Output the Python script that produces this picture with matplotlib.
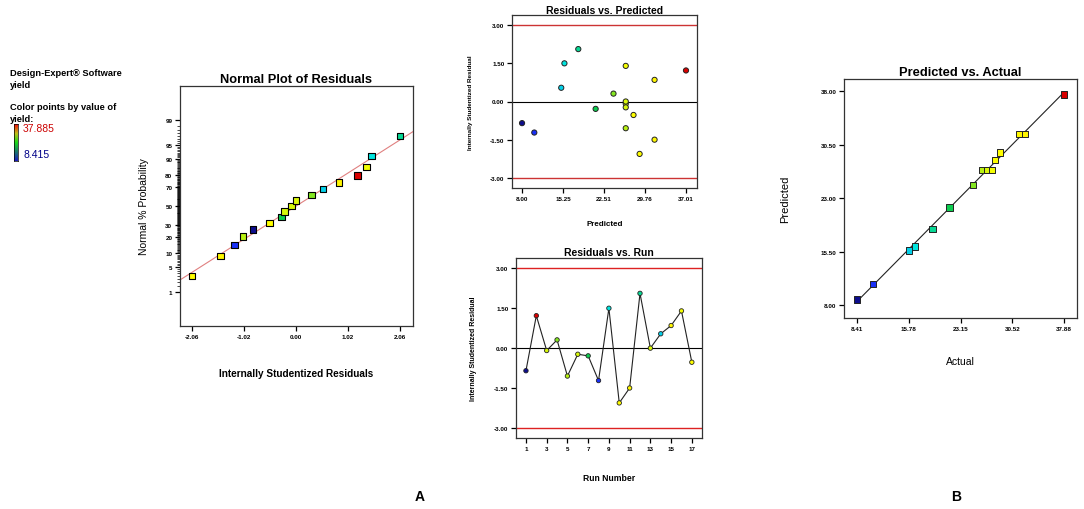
import numpy as np
import matplotlib
matplotlib.use("Agg")
import matplotlib.pyplot as plt
from matplotlib.colors import LinearSegmentedColormap
from matplotlib import font_manager
from statistics import NormalDist

plt.rcParams['font.family'] = ['Liberation Sans', 'DejaVu Sans']
_names = {f.name for f in font_manager.fontManager.ttflist}
TITLE_FAM = ['Liberation Sans Narrow', 'Liberation Sans'] if 'Liberation Sans Narrow' in _names else ['Liberation Sans']
TITLE_SCALE = 1.12 if 'Liberation Sans Narrow' in _names else 0.93

# ---------------- data (per run 1..17) ----------------
runs = list(range(1, 18))
residuals = [-0.85, 1.22, -0.09, 0.31, -1.05, -0.23, -0.29, -1.22, 1.50,
             -2.06, -1.50, 2.06, 0.00, 0.54, 0.85, 1.40, -0.53]
predicted = [8.79, 37.53, 26.97, 24.82, 26.97, 26.97, 21.69, 10.94, 16.22,
             29.40, 32.02, 18.65, 26.97, 15.66, 32.02, 26.97, 28.33]
actual = [8.41, 37.885, 26.93, 24.91, 26.24, 26.85, 21.58, 10.65, 16.64,
          28.71, 31.47, 19.16, 26.97, 15.78, 32.28, 27.62, 28.09]
yield_min, yield_max = 8.415, 37.885

normal_pct_ticks = [1, 5, 10, 20, 30, 50, 70, 80, 90, 95, 99]
normal_x_ticks = [-2.06, -1.03, 0.00, 1.03, 2.06]
normal_x_labels = ['-2.06', '-1.02', '0.00', '1.02', '2.06']
resid_ticks = [-3.00, -1.50, 0.00, 1.50, 3.00]
resid_labels = ['-3.00', '-1.50', '0.00', '1.50', '3.00']
rvp_x_labels = ['8.00', '15.25', '22.51', '29.76', '37.01']
run_ticks = [1, 3, 5, 7, 9, 11, 13, 15, 17]
pva_x_ticks = [8.41, 15.78, 23.15, 30.52, 37.88]
pva_x_labels = ['8.41', '15.78', '23.15', '30.52', '37.88']
pva_y_ticks = [8.00, 15.50, 23.00, 30.50, 38.00]
pva_y_labels = ['8.00', '15.50', '23.00', '30.50', '38.00']

res = np.array(residuals)
pred = np.array(predicted)
act = np.array(actual)

cmap = LinearSegmentedColormap.from_list('de', [
    (0.00, (0.05, 0.05, 0.55)),
    (0.08, (0.10, 0.20, 1.00)),
    (0.27, (0.00, 0.90, 0.90)),
    (0.45, (0.05, 0.80, 0.30)),
    (0.58, (0.60, 0.92, 0.10)),
    (0.66, (1.00, 1.00, 0.00)),
    (0.88, (1.00, 0.95, 0.00)),
    (1.00, (0.85, 0.00, 0.00)),
])
legend_cmap = LinearSegmentedColormap.from_list('leg', [
    (0.00, (0.10, 0.10, 0.75)),
    (0.50, (0.10, 0.85, 0.10)),
    (0.75, (0.75, 0.75, 0.10)),
    (1.00, (0.95, 0.05, 0.05)),
])
norm = plt.Normalize(yield_min, yield_max)
cols = cmap(norm(act))

W, H = 1084, 510
fig = plt.figure(figsize=(W / 100, H / 100), dpi=100)


def ax_px(l, t, r, b):
    return fig.add_axes([l / W, 1 - b / H, (r - l) / W, (b - t) / H])


TICK_FS = 4.5


def style(ax):
    for s in ax.spines.values():
        s.set_color('#333333')
        s.set_linewidth(0.9)
    ax.tick_params(direction='out', length=3.5, width=0.9, labelsize=TICK_FS,
                   top=False, right=False, pad=2)
    for lab in ax.get_xticklabels() + ax.get_yticklabels():
        lab.set_fontweight('bold')


def title(ax, txt, size, pad):
    ax.set_title(txt, fontsize=size * TITLE_SCALE, fontweight='bold', pad=pad,
                 family=TITLE_FAM)


nd = NormalDist()

# ---------------- Normal plot ----------------
ax1 = ax_px(180, 87, 413, 327)
order = np.argsort(res)
n = len(res)
zq = np.array([nd.inv_cdf((i - 0.5) / n) for i in range(1, n + 1)])
mu, sd = res.mean(), res.std(ddof=1)
xl = np.array([-2.3, 2.32])
ax1.plot(xl, (xl - mu) / sd, color='#e08080', lw=0.8, zorder=1)
ax1.scatter(res[order], zq, marker='s', s=22, c=cols[order], edgecolors='black',
            linewidths=0.8, zorder=3)
ax1.set_xlim(-2.3, 2.32)
ax1.set_ylim(-3.24, 3.24)
ax1.set_yticks([nd.inv_cdf(p / 100) for p in normal_pct_ticks])
ax1.set_yticklabels([str(p) for p in normal_pct_ticks])
minor_p = [p / 2 for p in range(2, 199)]
ax1.set_yticks([nd.inv_cdf(p / 100) for p in minor_p], minor=True)
ax1.set_xticks(normal_x_ticks)
ax1.set_xticklabels(normal_x_labels)
style(ax1)
ax1.tick_params(axis='y', which='minor', length=2, width=0.5, left=True)
title(ax1, 'Normal Plot of Residuals', 10, 3)
ax1.set_ylabel('Normal % Probability', fontsize=7.5, labelpad=12)
ax1.set_xlabel('Internally Studentized Residuals', fontsize=7.2,
               fontweight='bold', labelpad=21, family=TITLE_FAM)

# ---------------- Residuals vs Predicted ----------------
ax2 = ax_px(512, 16, 697, 189)
ax2.axhline(3, color='#cc3333', lw=1.0, zorder=1)
ax2.axhline(-3, color='#cc3333', lw=1.0, zorder=1)
ax2.axhline(0, color='black', lw=0.8, zorder=1)
ax2.scatter(pred, res, marker='o', s=14, c=cols, edgecolors='#222222',
            linewidths=0.7, zorder=3)
ax2.set_xlim(7.03, 39.46)
ax2.set_ylim(-3.40, 3.40)
ax2.set_xticks(np.linspace(pred.min(), pred.max(), 5))
ax2.set_xticklabels(rvp_x_labels)
ax2.set_yticks(resid_ticks)
ax2.set_yticklabels(resid_labels)
style(ax2)
title(ax2, 'Residuals vs. Predicted', 8, 1)
ax2.set_xlabel('Predicted', fontsize=5.8, fontweight='bold', labelpad=14)
ax2.set_ylabel('Internally Studentized Residual', fontsize=4.6,
               fontweight='bold', labelpad=12)

# ---------------- Residuals vs Run ----------------
ax3 = ax_px(516, 259, 702, 439)
ax3.axhline(3, color='#dd2222', lw=1.0, zorder=1)
ax3.axhline(-3, color='#dd2222', lw=1.0, zorder=1)
ax3.axhline(0, color='black', lw=0.8, zorder=1)
ax3.plot(runs, res, color='#222222', lw=0.8, zorder=2)
ax3.scatter(runs, res, marker='o', s=10, c=cols, edgecolors='#222222',
            linewidths=0.6, zorder=3)
ax3.set_xlim(0.04, 17.98)
ax3.set_ylim(-3.38, 3.39)
ax3.set_xticks(run_ticks)
ax3.set_yticks(resid_ticks)
ax3.set_yticklabels(resid_labels)
style(ax3)
title(ax3, 'Residuals vs. Run', 8, 2)
ax3.set_xlabel('Run Number', fontsize=6.2, fontweight='bold', labelpad=16)
ax3.set_ylabel('Internally Studentized Residual', fontsize=5,
               fontweight='bold', labelpad=12)

# ---------------- Predicted vs Actual ----------------
ax4 = ax_px(844, 80, 1077, 319)
k, b0 = np.polyfit(act, pred, 1)
xx = np.array([act.min(), act.max()])
ax4.plot(xx, k * xx + b0, color='#222222', lw=0.8, zorder=1)
ax4.scatter(act, pred, marker='s', s=20, c=cols, edgecolors='#222222',
            linewidths=0.7, zorder=3)
ax4.set_xlim(6.56, 39.70)
ax4.set_ylim(6.18, 39.72)
ax4.set_xticks(pva_x_ticks)
ax4.set_xticklabels(pva_x_labels)
ax4.set_yticks(pva_y_ticks)
ax4.set_yticklabels(pva_y_labels)
style(ax4)
title(ax4, 'Predicted vs. Actual', 10, 3)
ax4.set_xlabel('Actual', fontsize=7.5, labelpad=18)
ax4.set_ylabel('Predicted', fontsize=8, labelpad=22)

# ---------------- Legend text ----------------
LFS = 6.7
fig.text(10 / W, 1 - 74 / H, 'Design-Expert® Software', fontsize=LFS,
         fontweight='bold', va='center')
fig.text(10 / W, 1 - 85.5 / H, 'yield', fontsize=LFS, fontweight='bold', va='center')
fig.text(10 / W, 1 - 107.5 / H, 'Color points by value of', fontsize=LFS,
         fontweight='bold', va='center')
fig.text(10 / W, 1 - 119 / H, 'yield:', fontsize=LFS, fontweight='bold', va='center')
cax = ax_px(14, 125, 17.5, 162)
grad = np.linspace(1, 0, 100).reshape(-1, 1)
cax.imshow(grad, aspect='auto', cmap=legend_cmap, extent=[0, 1, 0, 1])
cax.set_xticks([])
cax.set_yticks([])
for s in cax.spines.values():
    s.set_linewidth(0.5)
fig.text(23 / W, 1 - 129 / H, f'{yield_max:.3f}', fontsize=7.5, color='#cc0000',
         va='center')
fig.text(23 / W, 1 - 155 / H, f'{yield_min:.3f}', fontsize=7.5, color='#000088',
         va='center')

fig.text(420 / W, 1 - 497 / H, 'A', fontsize=10, fontweight='bold', ha='center',
         va='center')
fig.text(956 / W, 1 - 497 / H, 'B', fontsize=10, fontweight='bold', ha='center',
         va='center')

fig.savefig('out.png', dpi=100)
